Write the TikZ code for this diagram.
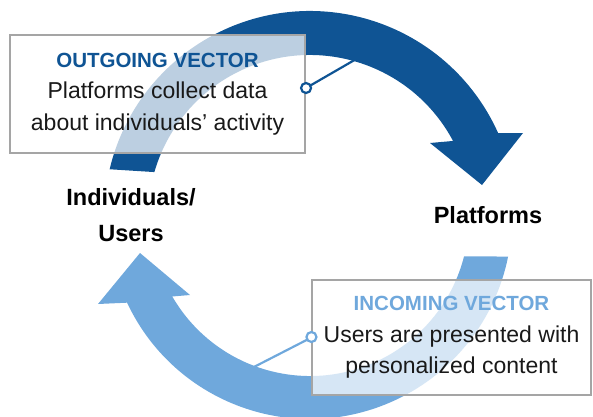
\documentclass[tikz,border=0pt]{standalone}
\usepackage{fontspec}
\setmainfont{Liberation Sans}
\usetikzlibrary{calc}
\definecolor{dblue}{RGB}{15,84,148}
\definecolor{lblue}{RGB}{111,168,220}
\definecolor{boxgray}{RGB}{165,165,165}
\definecolor{txt}{RGB}{25,25,25}
\begin{document}
\begin{tikzpicture}[x=1pt,y=1pt,
  infobox/.style={draw=boxgray, line width=1.1pt, fill=white, fill opacity=0.72,
    draw opacity=1, text opacity=1, align=center, inner sep=0pt, text=txt,
    font=\fontsize{23}{31.5}\selectfont},
  lbl/.style={font=\fontsize{23.5}{36}\selectfont\bfseries, align=center, text=black},
  pin/.style={circle, line width=2.2pt, fill=white, minimum size=10pt, inner sep=0pt},
  lead/.style={line width=2.2pt},
]
\useasboundingbox (0,0) rectangle (593,416);
\coordinate (C) at (310,199);
% top (outgoing) arrow
\fill[dblue] ($(C)+(166.6:206)$) arc[start angle=166.6, end angle=24, radius=206]
  -- (523,283) -- (482,231) -- (430,273)
  -- ($(C)+(28:162)$) arc[start angle=28, end angle=163.9, radius=162] -- cycle;
% bottom (incoming) arrow
\fill[lblue] ($(C)+(-14.3:159)$) arc[start angle=-14.3, end angle=-150, radius=159]
  -- (190,121) -- (140,163) -- (98,112)
  -- ($(C)+(-154.9:202)$) arc[start angle=-154.9, end angle=-11.3, radius=202] -- cycle;
% labels
\node[lbl] (users) at (131,201) {Individuals/\\Users};
\node[lbl] (plat) at (488,201) {Platforms};
% boxes
\node[infobox, minimum width=295pt, minimum height=118pt] (outbox) at (157.5,322)
  {{\fontsize{20.5}{31.5}\selectfont\bfseries\color{dblue}OUTGOING VECTOR}\\Platforms collect data\\about individuals’ activity};
\node[infobox, minimum width=279pt, minimum height=115pt] (inbox) at (451.5,78.5)
  {{\fontsize{20.5}{31.5}\selectfont\bfseries\color{lblue}INCOMING VECTOR}\\Users are presented with\\personalized content};
% connectors
\coordinate (a1) at (358,358);
\coordinate (a2) at (252,48);
\draw[lead, dblue] ($(outbox.east)+(0.5,6)$) -- (a1);
\draw[lead, lblue] (inbox.west) -- (a2);
\node[pin, draw=dblue] (p1) at ($(outbox.east)+(0.5,6)$) {};
\node[pin, draw=lblue] (p2) at ($(inbox.west)+(0,0.5)$) {};
\end{tikzpicture}
\end{document}
